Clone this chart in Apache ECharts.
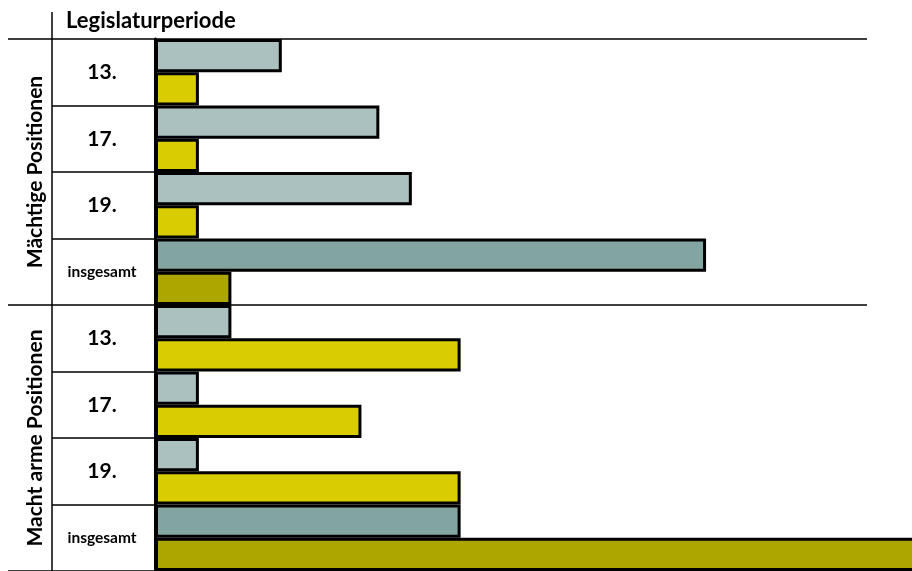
<!DOCTYPE html>
<html>
<head>
<meta charset="utf-8">
<script src="https://cdn.jsdelivr.net/npm/echarts@6/dist/echarts.min.js"></script>
<style>
  html, body { margin: 0; padding: 0; background: #fff; }
  #chart { width: 912px; height: 571px; }
</style>
</head>
<body>
<div id="chart"></div>
<script>
// Legislative periods per group, top to bottom
const periods = ['13.', '17.', '19.', 'insgesamt', '13.', '17.', '19.', 'insgesamt'];
const groups = ['Mächtige Positionen', 'Macht arme Positionen'];
const headerText = 'Legislaturperiode';

// Bar lengths for the two series (same order as periods)
const seriesA = [7.8, 13.8, 15.8, 33.9, 4.7, 2.7, 2.7, 18.8];
const seriesB = [2.7, 2.7, 2.7, 4.7, 18.8, 12.7, 18.8, 48];

// Colours: regular rows and the "insgesamt" total rows
const colorA = '#aac1bf', colorAtotal = '#82a5a2';
const colorB = '#d9cc00', colorBtotal = '#ada500';

const FONT = 'Lato, "Open Sans", sans-serif';

function toData(values, base, total) {
  return values.map((v, i) => ({
    value: v,
    itemStyle: { color: periods[i] === 'insgesamt' ? total : base }
  }));
}

const chart = echarts.init(document.getElementById('chart'), null, { renderer: 'canvas' });

chart.setOption({
  animation: false,
  title: {
    text: headerText,
    left: 61,
    top: 5,
    textStyle: { fontFamily: FONT, fontSize: 22, fontWeight: 'bold', color: '#000' }
  },
  grid: { left: 155, right: 45, top: 39, bottom: 0, containLabel: false },
  xAxis: {
    type: 'value',
    min: 0,
    max: 43.8,
    show: false
  },
  yAxis: [
    {
      type: 'category',
      data: periods,
      inverse: true,
      axisLine: { show: true, lineStyle: { color: '#000', width: 3 } },
      axisTick: { show: true, interval: 0, length: 103, lineStyle: { color: '#000', width: 1.5 } },
      splitLine: { show: false },
      axisLabel: {
        interval: 0,
        align: 'center',
        margin: 53,
        fontFamily: FONT,
        color: '#000',
        formatter: v => v === 'insgesamt' ? '{s|' + v + '}' : '{b|' + v + '}',
        rich: {
          b: { fontFamily: FONT, fontSize: 21, fontWeight: 'bold', color: '#000' },
          s: { fontFamily: FONT, fontSize: 15.5, fontWeight: 'bold', color: '#000' }
        }
      }
    },
    {
      type: 'category',
      data: groups,
      inverse: true,
      position: 'left',
      axisLine: { show: false },
      axisTick: { show: true, interval: 0, length: 147, lineStyle: { color: '#000', width: 1.5 } },
      splitLine: { show: true, interval: 0, lineStyle: { color: '#000', width: 1.5 } },
      axisLabel: {
        interval: 0,
        hideOverlap: false,
        rotate: 90,
        margin: 109,
        fontFamily: FONT,
        fontSize: 21,
        fontWeight: 'bold',
        color: '#000'
      }
    }
  ],
  graphic: [
    {
      type: 'line',
      shape: { x1: 52, y1: 12, x2: 52, y2: 571 },
      style: { stroke: '#000', lineWidth: 1.5 },
      z: 10
    }
  ],
  series: [
    {
      type: 'bar',
      yAxisIndex: 0,
      data: toData(seriesA, colorA, colorAtotal),
      barGap: '0%',
      barCategoryGap: '0%',
      clip: false,
      itemStyle: { borderColor: '#000', borderWidth: 3 }
    },
    {
      type: 'bar',
      yAxisIndex: 0,
      data: toData(seriesB, colorB, colorBtotal),
      barGap: '0%',
      barCategoryGap: '0%',
      clip: false,
      itemStyle: { borderColor: '#000', borderWidth: 3 }
    }
  ]
});
</script>
</body>
</html>
